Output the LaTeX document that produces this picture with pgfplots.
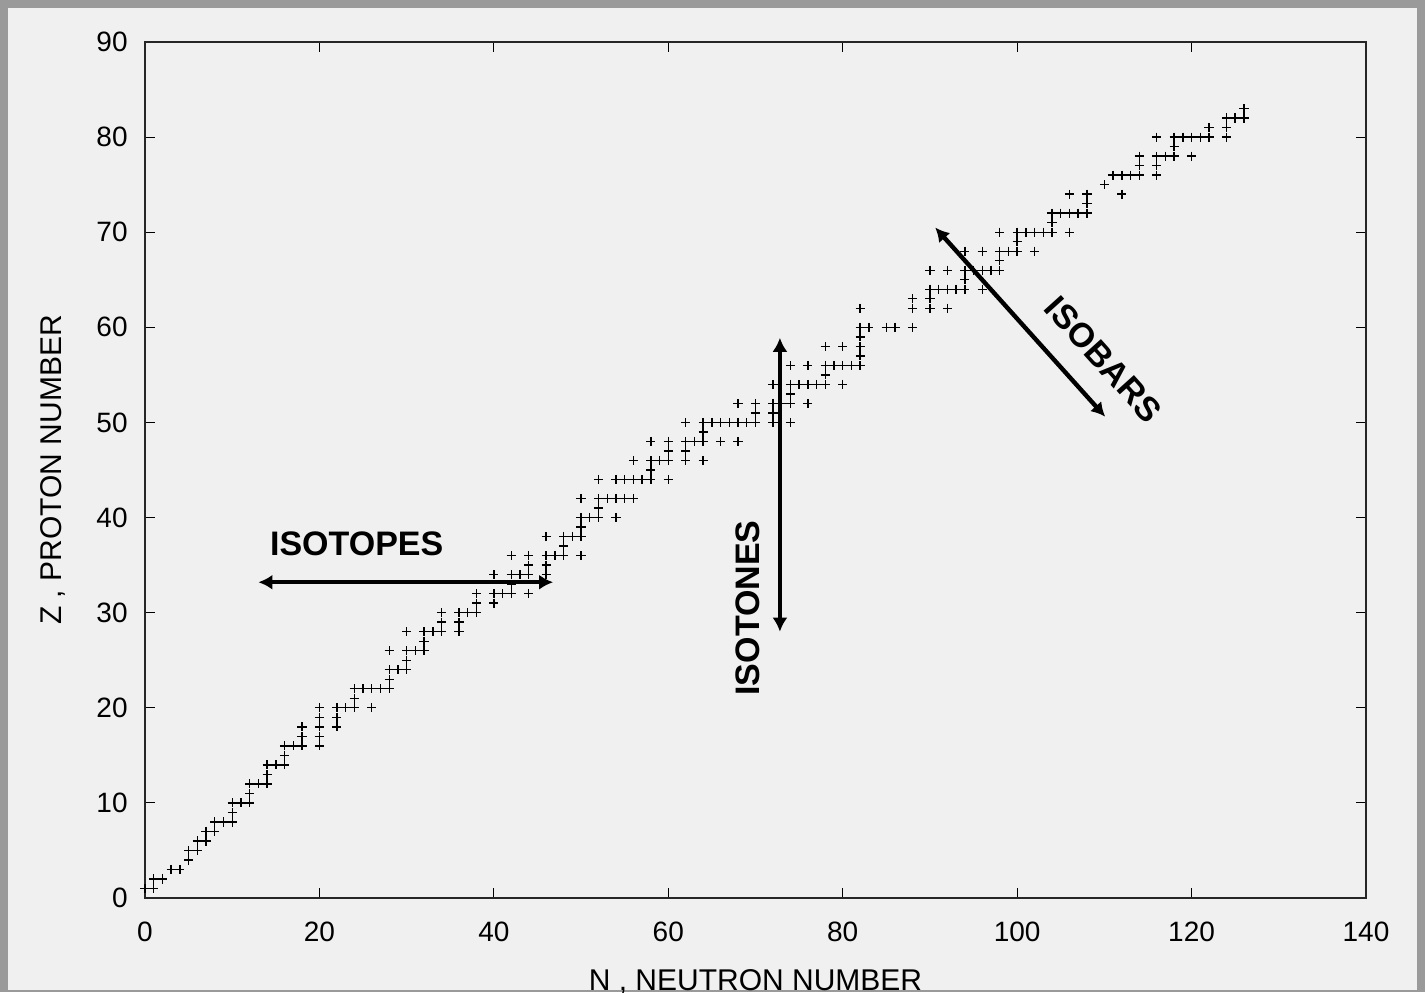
\documentclass[border=0pt]{standalone}
\usepackage{fontspec}
\setmainfont{Liberation Sans}
\usepackage{pgfplots}
\pgfplotsset{compat=1.18}
\usetikzlibrary{arrows.meta}
\definecolor{panel}{HTML}{F0F0F0}
\definecolor{frame}{HTML}{9A9A9A}
\begin{document}
\begin{tikzpicture}
\useasboundingbox (0,0) rectangle (712.5pt,496pt);
\fill[frame] (0,0) rectangle (712.5pt,496pt);
\fill[panel] (4pt,1pt) rectangle (708.5pt,492pt);
\begin{axis}[
  at={(72.5pt,47pt)}, anchor=south west,
  scale only axis, width=610.5pt, height=428pt,
  xmin=0,xmax=140,ymin=0,ymax=90,
  xtick={0,20,...,140}, ytick={0,10,...,90},
  tick align=inside, major tick length=5pt,
  axis line style={line width=0.9pt, black!85},
  every tick/.style={black, line width=0.5pt},
  /pgf/number format/assume math mode=true,
  tick label style={font=\fontsize{14}{16}\selectfont, inner sep=0pt},
  xticklabel style={anchor=north, yshift=-12pt},
  yticklabel style={anchor=east, xshift=-8.5pt},
  xlabel={N , NEUTRON NUMBER}, ylabel={Z , PROTON NUMBER},
  label style={font=\fontsize{15}{18}\selectfont, inner sep=0pt},
  xlabel style={at={(axis description cs:0.5,-0.1075)}, anchor=base},
  ylabel style={at={(axis description cs:-0.068,0.5)}, anchor=base},
  clip=false,
]
\addplot[only marks, mark=+, mark size=2.3pt, mark options={line width=0.7pt}, black] table {
N Z
0 1
1 1
1 2
2 2
3 3
4 3
5 4
5 5
6 5
6 6
7 6
7 7
8 7
8 8
9 8
10 8
10 9
10 10
11 10
12 10
12 11
12 12
13 12
14 12
14 13
14 14
15 14
16 14
16 15
16 16
17 16
18 16
18 17
18 18
20 16
20 17
20 18
20 19
20 20
22 18
22 19
22 20
23 20
24 20
26 20
24 21
24 22
25 22
26 22
27 22
28 22
28 23
28 24
29 24
30 24
30 25
28 26
30 26
31 26
32 26
32 27
30 28
32 28
33 28
34 28
36 28
34 29
36 29
34 30
36 30
37 30
38 30
38 31
40 31
38 32
40 32
41 32
42 32
44 32
42 33
40 34
42 34
43 34
44 34
46 34
44 35
46 35
42 36
44 36
46 36
47 36
48 36
50 36
48 37
46 38
48 38
49 38
50 38
50 39
50 40
51 40
52 40
54 40
52 41
50 42
52 42
53 42
54 42
55 42
56 42
52 44
54 44
55 44
56 44
57 44
58 44
60 44
58 45
56 46
58 46
59 46
60 46
62 46
64 46
60 47
62 47
58 48
60 48
62 48
63 48
64 48
66 48
68 48
64 49
62 50
64 50
65 50
66 50
67 50
68 50
69 50
70 50
72 50
74 50
70 51
72 51
68 52
70 52
72 52
73 52
74 52
76 52
74 53
72 54
74 54
75 54
76 54
77 54
78 54
80 54
78 55
74 56
76 56
78 56
79 56
80 56
81 56
82 56
82 57
78 58
80 58
82 58
82 59
82 60
83 60
85 60
86 60
88 60
82 62
88 62
90 62
92 62
88 63
90 63
90 64
91 64
92 64
93 64
94 64
96 64
94 65
90 66
92 66
94 66
95 66
96 66
97 66
98 66
98 67
94 68
96 68
98 68
99 68
100 68
102 68
100 69
98 70
100 70
101 70
102 70
103 70
104 70
106 70
104 71
104 72
105 72
106 72
107 72
108 72
108 73
106 74
108 74
112 74
110 75
111 76
112 76
113 76
114 76
116 76
114 77
116 77
114 78
116 78
117 78
118 78
120 78
118 79
116 80
118 80
119 80
120 80
121 80
122 80
124 80
122 81
124 81
124 82
125 82
126 82
126 83
};
\draw[line width=2.2pt, {Latex[length=7pt,width=7.5pt]}-{Latex[length=7pt,width=7.5pt]}] (axis cs:13,33.2) -- (axis cs:46.8,33.2);
\node[font=\fontsize{17}{20}\bfseries\selectfont, anchor=west, inner sep=0pt] at (axis cs:14.3,37.2) {ISOTOPES};
\draw[line width=2.2pt, {Latex[length=7pt,width=7.5pt]}-{Latex[length=7pt,width=7.5pt]}] (axis cs:72.8,28.0) -- (axis cs:72.8,58.9);
\node[font=\fontsize{17}{20}\bfseries\selectfont, rotate=90, inner sep=0pt] at (axis cs:69.15,30.5) {ISOTONES};
\draw[line width=2.2pt, {Latex[length=7pt,width=7.5pt]}-{Latex[length=7pt,width=7.5pt]}] (axis cs:90.6,70.5) -- (axis cs:110.1,50.6);
\node[font=\fontsize{17}{20}\bfseries\selectfont, rotate=-48, inner sep=0pt] at (axis cs:109.9,56.6) {ISOBARS};
\end{axis}
\end{tikzpicture}
\end{document}
